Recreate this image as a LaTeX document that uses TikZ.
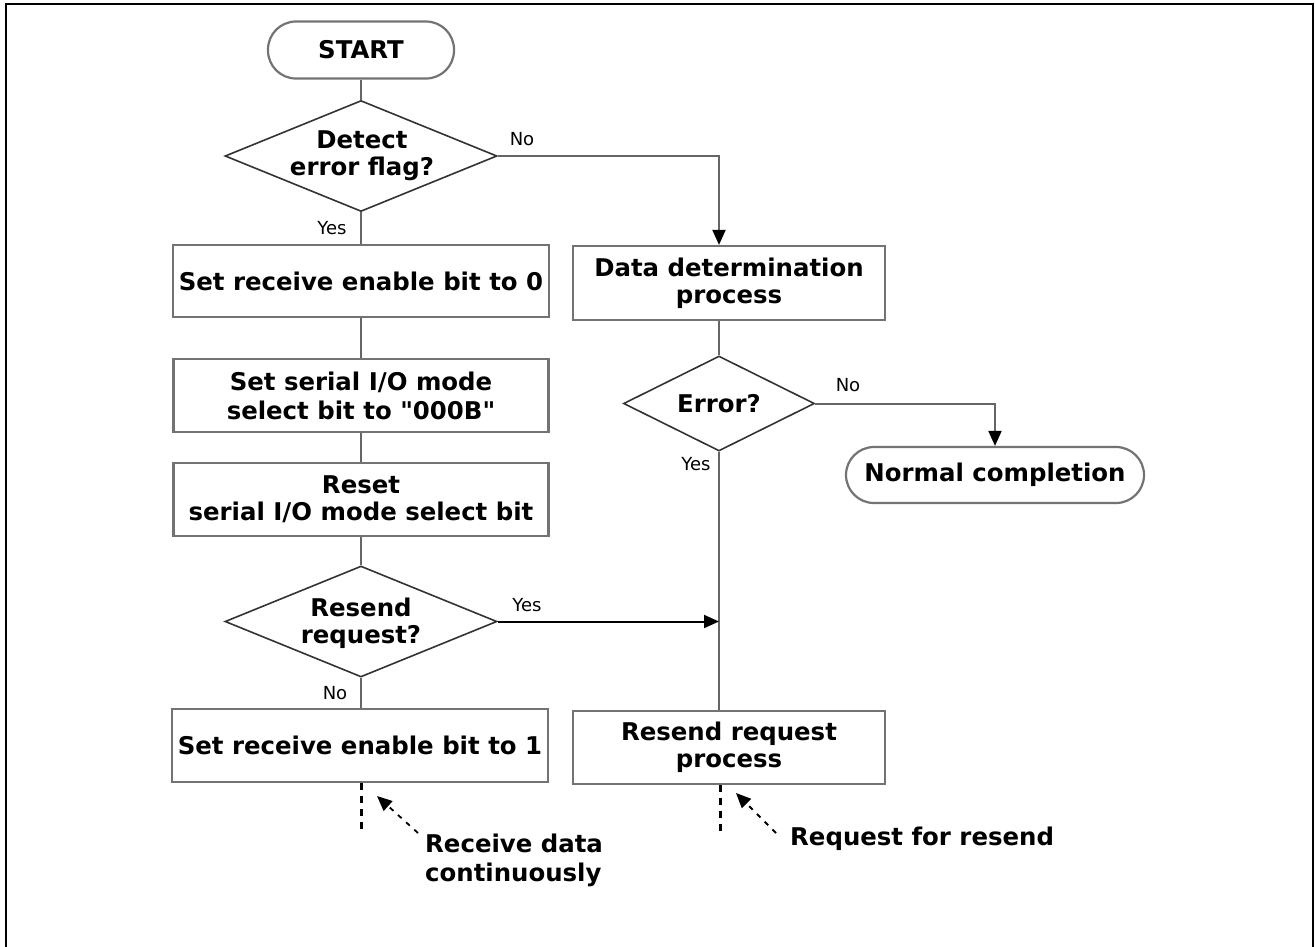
\documentclass[tikz,border=0pt]{standalone}
\usepackage{fontspec}
\setmainfont{DejaVu Sans}
\usetikzlibrary{shapes.geometric,arrows.meta,calc}
\newcommand{\flowfont}{\fontsize{24.4}{27}\selectfont\bfseries}
\newcommand{\tagfont}{\fontsize{18}{20}\selectfont}
\begin{document}
\begin{tikzpicture}[x=1pt,y=-1pt,
  proc/.style={draw=black!55, line width=2.2pt, rectangle, inner sep=0pt,
               font=\flowfont, align=center},
  term/.style={proc, rounded corners=28pt},
  decide/.style={diamond, draw=black!80, line width=1.6pt, inner sep=0pt},
  dtext/.style={font=\flowfont, align=center, inner sep=0pt},
  link/.style={draw=black!60, line width=2pt},
  arr/.style={link, -{Triangle[length=15pt,width=13pt,color=black]}},
  tag/.style={font=\tagfont, inner sep=0pt},
  note/.style={font=\fontsize{24.4}{29}\selectfont\bfseries, align=left, inner sep=0pt},
  dashline/.style={draw=black, line width=3pt, dash pattern=on 7pt off 6pt},
  hint/.style={draw=black, line width=1.8pt, dash pattern=on 5pt off 6pt,
               -{Triangle[length=15pt,width=13pt]}},
]
\useasboundingbox (0,0) rectangle (1315,946);
% outer frame
\draw[line width=2.5pt] (6,960) -- (6,4) -- (1313,4) -- (1313,960);

% left column
\node[term, minimum width=186pt, minimum height=57pt] (start) at (361,50) {START};
\node[decide, minimum width=272pt, minimum height=111pt] (d1) at (361,156) {};
\node[dtext] (d1t) at (362,156) {Detect\\error flag?};
\node[proc, minimum width=376pt, minimum height=72pt] (b1) at (361,281) {Set receive enable bit to 0};
\node[proc, minimum width=375pt, minimum height=73pt] (b2) at (361,395.5) {Set serial I/O mode\\[2pt]select bit to \textquotedbl 000B\textquotedbl};
\node[proc, minimum width=375pt, minimum height=73pt] (b3) at (361,499.5) {Reset\\serial I/O mode select bit};
\node[decide, minimum width=272pt, minimum height=111pt] (d3) at (361,621.5) {};
\node[dtext] (d3t) at (361,623) {Resend\\request?};
\node[proc, minimum width=376pt, minimum height=73pt] (b4) at (360,745.5) {Set receive enable bit to 1};

% right column
\node[proc, minimum width=312pt, minimum height=74pt] (data) at (729,283) {Data determination\\process};
\node[decide, minimum width=191pt, minimum height=95pt] (d2) at (719,403.5) {};
\node[dtext] (d2t) at (719,403.5) {Error?};
\node[term, minimum width=298pt, minimum height=56pt] (done) at (995,475) {Normal completion};
\node[proc, minimum width=312pt, minimum height=73pt] (rs) at (729,747.5) {Resend request\\process};

% main flow
\draw[link] (start.south) -- (d1.north);
\draw[link] (d1.south) -- (d1.south |- b1.north);
\draw[link] (b1.south -| d1.south) -- (b2.north -| d1.south);
\draw[link] (b2.south -| d1.south) -- (b3.north -| d1.south);
\draw[link] (b3.south -| d1.south) -- (d3.north);
\draw[link] (d3.south) -- (d3.south |- b4.north);
\draw[arr] (d1.east) -| (data.north -| d2.north);
\draw[link] (data.south -| d2.north) -- (d2.north);
\draw[arr] (d2.east) -| (done.north);
\draw[link] (d2.south) -- (rs.north -| d2.south);
\draw[arr, draw=black] (d3.east) -- (d3.east -| d2.south);

% branch labels
\node[tag] (y1) at (332,228) {Yes};
\node[tag] (n1) at (522,139) {No};
\node[tag] (n2) at (848,385) {No};
\node[tag] (y2) at (696,464) {Yes};
\node[tag] (y3) at (527,605) {Yes};
\node[tag] (n3) at (335,693) {No};

% continuation marks
\coordinate (e1) at (361,833);
\coordinate (e2) at (720,835);
\draw[dashline] (b4.south -| e1) -- (e1);
\draw[dashline] (rs.south -| e2) -- (e2);
\coordinate (t1) at (377,796);
\coordinate (s1) at (418,833);
\coordinate (t2) at (736,793);
\coordinate (s2) at (776,833);
\draw[hint] (s1) -- (t1);
\draw[hint] (s2) -- (t2);
\node[note, anchor=north west] (m1) at (425,834) {Receive data\\continuously};
\node[note, anchor=north west] (m2) at (790,827) {Request for resend};
\end{tikzpicture}
\end{document}
